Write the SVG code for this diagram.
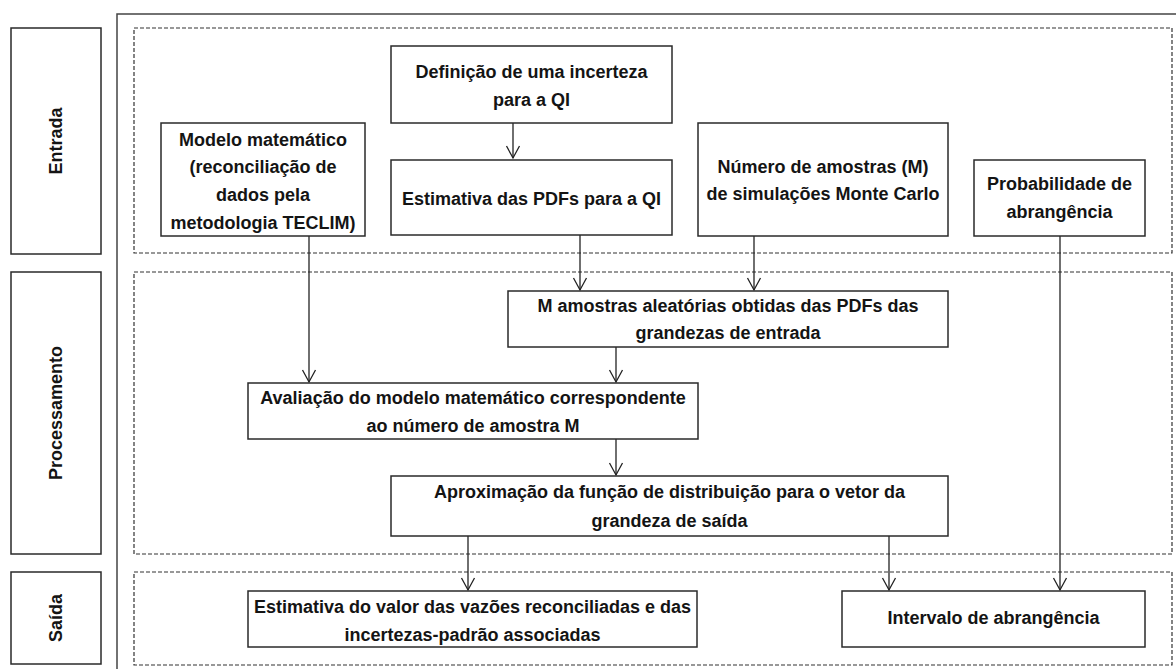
<svg xmlns="http://www.w3.org/2000/svg" width="1176" height="669" viewBox="0 0 1176 669">
<defs>
<style>
.box{fill:#fff;stroke:#2a2a2a;stroke-width:1.5}
.zone{fill:none;stroke:#333;stroke-width:1.2;stroke-dasharray:4 2}
.frame{fill:none;stroke:#444;stroke-width:1.5}
.t{font-family:"Liberation Sans",Arial,sans-serif;font-weight:bold;font-size:18px;fill:#141414;text-anchor:middle}
.c{fill:none;stroke:#222;stroke-width:1.3}
</style>
<marker id="ah" markerUnits="userSpaceOnUse" markerWidth="16" markerHeight="16" viewBox="-14 -8 16 16" refX="0" refY="0" orient="auto">
<path d="M-12,-6.5 L0,0 L-12,6.5" fill="none" stroke="#222" stroke-width="1.3"/>
</marker>
</defs>
<rect width="1176" height="669" fill="#fff"/>

<g id="frame">
<polyline class="frame" points="117,669 117,14 1176,14"/>
</g>

<g id="labels">
<g id="lbl-entrada"><rect class="box" x="11" y="28" width="90" height="226"/><text class="t" transform="translate(62,141) rotate(-90)">Entrada</text></g>
<g id="lbl-processamento"><rect class="box" x="11" y="272" width="90" height="282"/><text class="t" transform="translate(62,413) rotate(-90)">Processamento</text></g>
<g id="lbl-saida"><rect class="box" x="11" y="572" width="90" height="92"/><text class="t" transform="translate(62,618) rotate(-90)">Saída</text></g>
</g>

<g id="zones">
<rect class="zone" x="134" y="28" width="1038" height="225"/>
<rect class="zone" x="134" y="272" width="1038" height="282"/>
<rect class="zone" x="134" y="572" width="1038" height="93"/>
</g>

<g id="connectors">
<line class="c" x1="513" y1="123" x2="513" y2="158" marker-end="url(#ah)"/>
<line class="c" x1="580" y1="235" x2="580" y2="290" marker-end="url(#ah)"/>
<line class="c" x1="754" y1="236" x2="754" y2="290" marker-end="url(#ah)"/>
<line class="c" x1="309" y1="236" x2="309" y2="382" marker-end="url(#ah)"/>
<line class="c" x1="616" y1="347" x2="616" y2="382" marker-end="url(#ah)"/>
<line class="c" x1="616" y1="439" x2="616" y2="475" marker-end="url(#ah)"/>
<line class="c" x1="468" y1="536" x2="468" y2="590" marker-end="url(#ah)"/>
<line class="c" x1="889" y1="536" x2="889" y2="590" marker-end="url(#ah)"/>
<line class="c" x1="1060" y1="236" x2="1060" y2="590" marker-end="url(#ah)"/>
</g>

<g id="n-definicao"><rect class="box" x="391" y="46" width="281" height="77"/>
<text class="t" x="531.5" y="78">Definição de uma incerteza</text><text class="t" x="531.5" y="106">para a QI</text></g>

<g id="n-estimativa-pdfs"><rect class="box" x="391" y="160" width="281" height="75"/>
<text class="t" x="531.5" y="205">Estimativa das PDFs para a QI</text></g>

<g id="n-modelo"><rect class="box" x="161" y="123" width="204" height="113"/>
<text class="t" x="263" y="146">Modelo matemático</text><text class="t" x="263" y="173">(reconciliação de</text><text class="t" x="263" y="201">dados pela</text><text class="t" x="263" y="229">metodologia TECLIM)</text></g>

<g id="n-numero"><rect class="box" x="698" y="123" width="250" height="113"/>
<text class="t" x="823" y="173">Número de amostras (M)</text><text class="t" x="823" y="200">de simulações Monte Carlo</text></g>

<g id="n-probabilidade"><rect class="box" x="974" y="160" width="171" height="76"/>
<text class="t" x="1059.5" y="190">Probabilidade de</text><text class="t" x="1059.5" y="218">abrangência</text></g>

<g id="n-m-amostras"><rect class="box" x="508" y="291" width="440" height="56"/>
<text class="t" x="728" y="312">M amostras aleatórias obtidas das PDFs das</text><text class="t" x="728" y="339">grandezas de entrada</text></g>

<g id="n-avaliacao"><rect class="box" x="248" y="383" width="450" height="56"/>
<text class="t" x="473" y="404">Avaliação do modelo matemático correspondente</text><text class="t" x="473" y="432">ao número de amostra M</text></g>

<g id="n-aproximacao"><rect class="box" x="391" y="476" width="557" height="60"/>
<text class="t" x="669.5" y="498">Aproximação da função de distribuição para o vetor da</text><text class="t" x="669.5" y="527">grandeza de saída</text></g>

<g id="n-estimativa-valor"><rect class="box" x="248" y="591" width="449" height="56"/>
<text class="t" x="472.5" y="613">Estimativa do valor das vazões reconciliadas e das</text><text class="t" x="472.5" y="641">incertezas-padrão associadas</text></g>

<g id="n-intervalo"><rect class="box" x="842" y="591" width="303" height="56"/>
<text class="t" x="993.5" y="624">Intervalo de abrangência</text></g>
</svg>
